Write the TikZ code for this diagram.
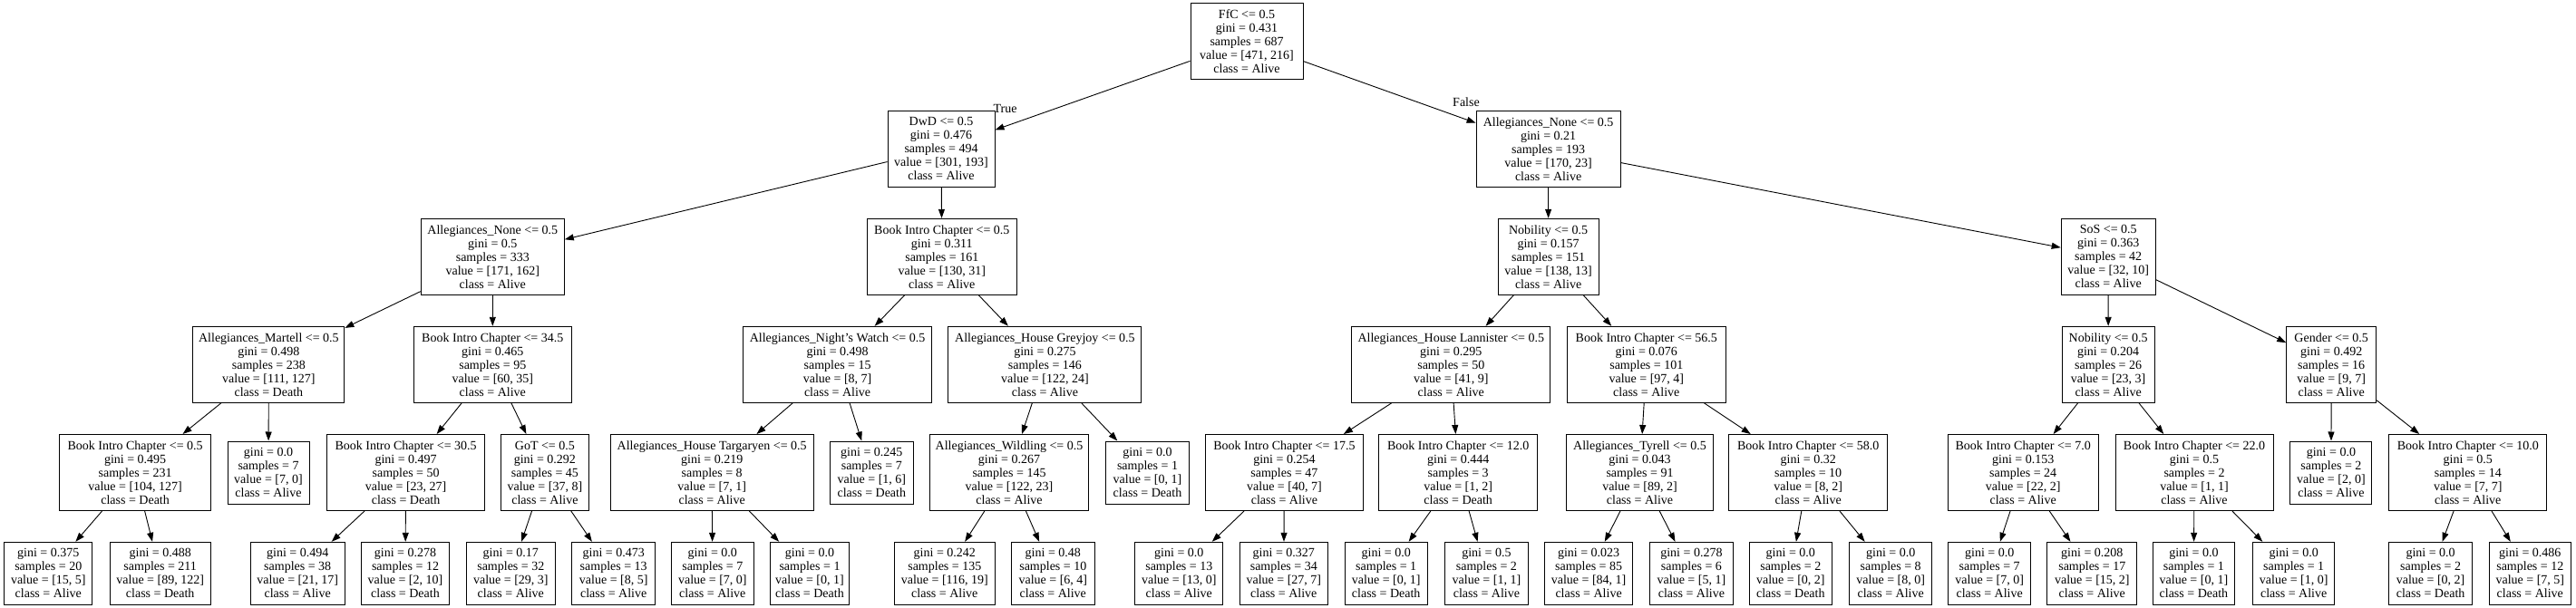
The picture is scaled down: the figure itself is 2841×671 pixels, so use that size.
\documentclass[tikz,border=0pt]{standalone}
\usepackage{fontspec}
\setmainfont{Liberation Serif}
\usetikzlibrary{arrows.meta}
\begin{document}
\begin{tikzpicture}[x=1pt,y=-1pt,
  box/.style={draw, line width=1pt, rectangle, inner sep=0pt, minimum height=84pt, align=center, font=\fontsize{14}{15}\selectfont},
  leaf/.style={box, minimum height=69pt},
  edge/.style={line width=0.9pt, -{Triangle[length=10pt,width=7pt]}},
  elabel/.style={inner sep=0pt, font=\fontsize{14}{15}\selectfont}]
\useasboundingbox (0,0) rectangle (2841,671);
% level 0
\node[box, minimum width=124pt] (root) at (1375,45.3) {FfC <= 0.5\\gini = 0.431\\samples = 687\\value = [471, 216]\\class = Alive};
% level 1
\node[box, minimum width=118pt] (dwd) at (1038,164.3) {DwD <= 0.5\\gini = 0.476\\samples = 494\\value = [301, 193]\\class = Alive};
\node[box, minimum width=159pt] (anoneA) at (1707.6,164.3) {Allegiances\_None <= 0.5\\gini = 0.21\\samples = 193\\value = [170, 23]\\class = Alive};
% level 2
\node[box, minimum width=158pt] (anoneB) at (543.3,283.3) {Allegiances\_None <= 0.5\\gini = 0.5\\samples = 333\\value = [171, 162]\\class = Alive};
\node[box, minimum width=165pt] (bicA) at (1038.8,283.3) {Book Intro Chapter <= 0.5\\gini = 0.311\\samples = 161\\value = [130, 31]\\class = Alive};
\node[box, minimum width=111pt] (nobA) at (1707.6,283.3) {Nobility <= 0.5\\gini = 0.157\\samples = 151\\value = [138, 13]\\class = Alive};
\node[box, minimum width=104pt] (sos) at (2325.2,283.3) {SoS <= 0.5\\gini = 0.363\\samples = 42\\value = [32, 10]\\class = Alive};
% level 3
\node[box, minimum width=167pt] (mart) at (296.4,402.3) {Allegiances\_Martell <= 0.5\\gini = 0.498\\samples = 238\\value = [111, 127]\\class = Death};
\node[box, minimum width=174pt] (bicB) at (543.3,402.3) {Book Intro Chapter <= 34.5\\gini = 0.465\\samples = 95\\value = [60, 35]\\class = Alive};
\node[box, minimum width=208pt] (nw) at (923.6,402.3) {Allegiances\_Night's Watch <= 0.5\\gini = 0.498\\samples = 15\\value = [8, 7]\\class = Alive};
\node[box, minimum width=213pt] (grey) at (1152.4,402.3) {Allegiances\_House Greyjoy <= 0.5\\gini = 0.275\\samples = 146\\value = [122, 24]\\class = Alive};
\node[box, minimum width=219pt] (lann) at (1600.3,402.3) {Allegiances\_House Lannister <= 0.5\\gini = 0.295\\samples = 50\\value = [41, 9]\\class = Alive};
\node[box, minimum width=175pt] (bicC) at (1815.8,402.3) {Book Intro Chapter <= 56.5\\gini = 0.076\\samples = 101\\value = [97, 4]\\class = Alive};
\node[box, minimum width=102pt] (nobB) at (2325.1,402.3) {Nobility <= 0.5\\gini = 0.204\\samples = 26\\value = [23, 3]\\class = Alive};
\node[box, minimum width=99pt] (gender) at (2571.2,402.3) {Gender <= 0.5\\gini = 0.492\\samples = 16\\value = [9, 7]\\class = Alive};
% level 4
\node[box, minimum width=167pt] (bicD) at (149.1,521.5) {Book Intro Chapter <= 0.5\\gini = 0.495\\samples = 231\\value = [104, 127]\\class = Death};
\node[leaf, minimum width=90pt] (lfA) at (296,521.5) {gini = 0.0\\samples = 7\\value = [7, 0]\\class = Alive};
\node[box, minimum width=174pt] (bicE) at (447.6,521.5) {Book Intro Chapter <= 30.5\\gini = 0.497\\samples = 50\\value = [23, 27]\\class = Death};
\node[box, minimum width=97.6pt] (got) at (600.9,521.5) {GoT <= 0.5\\gini = 0.292\\samples = 45\\value = [37, 8]\\class = Alive};
\node[box, minimum width=223.6pt] (targ) at (785.2,521.5) {Allegiances\_House Targaryen <= 0.5\\gini = 0.219\\samples = 8\\value = [7, 1]\\class = Alive};
\node[leaf, minimum width=92pt] (lfB) at (961.3,521.5) {gini = 0.245\\samples = 7\\value = [1, 6]\\class = Death};
\node[box, minimum width=174.5pt] (wild) at (1113,521.5) {Allegiances\_Wildling <= 0.5\\gini = 0.267\\samples = 145\\value = [122, 23]\\class = Alive};
\node[leaf, minimum width=91.5pt] (lfC) at (1265.5,521.5) {gini = 0.0\\samples = 1\\value = [0, 1]\\class = Death};
\node[box, minimum width=174pt] (bicF) at (1416.4,521.5) {Book Intro Chapter <= 17.5\\gini = 0.254\\samples = 47\\value = [40, 7]\\class = Alive};
\node[box, minimum width=174.5pt] (bicG) at (1608.2,521.5) {Book Intro Chapter <= 12.0\\gini = 0.444\\samples = 3\\value = [1, 2]\\class = Death};
\node[box, minimum width=162pt] (tyrell) at (1808.5,521.5) {Allegiances\_Tyrell <= 0.5\\gini = 0.043\\samples = 91\\value = [89, 2]\\class = Alive};
\node[box, minimum width=174.5pt] (bicH) at (1994.2,521.5) {Book Intro Chapter <= 58.0\\gini = 0.32\\samples = 10\\value = [8, 2]\\class = Alive};
\node[box, minimum width=166pt] (bicI) at (2231.2,521.5) {Book Intro Chapter <= 7.0\\gini = 0.153\\samples = 24\\value = [22, 2]\\class = Alive};
\node[box, minimum width=174pt] (bicJ) at (2420,521.5) {Book Intro Chapter <= 22.0\\gini = 0.5\\samples = 2\\value = [1, 1]\\class = Alive};
\node[leaf, minimum width=90pt] (lfD) at (2570.9,521.5) {gini = 0.0\\samples = 2\\value = [2, 0]\\class = Alive};
\node[box, minimum width=174pt] (bicK) at (2721.8,521.5) {Book Intro Chapter <= 10.0\\gini = 0.5\\samples = 14\\value = [7, 7]\\class = Alive};
% level 5
\node[leaf, minimum width=97pt] (m1) at (53.3,632.8) {gini = 0.375\\samples = 20\\value = [15, 5]\\class = Alive};
\node[leaf, minimum width=111pt] (m2) at (176.7,632.8) {gini = 0.488\\samples = 211\\value = [89, 122]\\class = Death};
\node[leaf, minimum width=103.6pt] (m3) at (328.2,632.8) {gini = 0.494\\samples = 38\\value = [21, 17]\\class = Alive};
\node[leaf, minimum width=97.6pt] (m4) at (447,632.8) {gini = 0.278\\samples = 12\\value = [2, 10]\\class = Death};
\node[leaf, minimum width=97.6pt] (m5) at (563.3,632.8) {gini = 0.17\\samples = 32\\value = [29, 3]\\class = Alive};
\node[leaf, minimum width=91.5pt] (m6) at (676.7,632.8) {gini = 0.473\\samples = 13\\value = [8, 5]\\class = Alive};
\node[leaf, minimum width=91.5pt] (m7) at (785.8,632.8) {gini = 0.0\\samples = 7\\value = [7, 0]\\class = Alive};
\node[leaf, minimum width=87pt] (m8) at (893,632.8) {gini = 0.0\\samples = 1\\value = [0, 1]\\class = Death};
\node[leaf, minimum width=111pt] (m9) at (1041.8,632.8) {gini = 0.242\\samples = 135\\value = [116, 19]\\class = Alive};
\node[leaf, minimum width=91.5pt] (m10) at (1161.3,632.8) {gini = 0.48\\samples = 10\\value = [6, 4]\\class = Alive};
\node[leaf, minimum width=97pt] (m11) at (1300.3,632.8) {gini = 0.0\\samples = 13\\value = [13, 0]\\class = Alive};
\node[leaf, minimum width=97.5pt] (m12) at (1415.8,632.8) {gini = 0.327\\samples = 34\\value = [27, 7]\\class = Alive};
\node[leaf, minimum width=91pt] (m13) at (1528.7,632.8) {gini = 0.0\\samples = 1\\value = [0, 1]\\class = Death};
\node[leaf, minimum width=91.6pt] (m14) at (1639.4,632.8) {gini = 0.5\\samples = 2\\value = [1, 1]\\class = Alive};
\node[leaf, minimum width=97.6pt] (m15) at (1752.1,632.8) {gini = 0.023\\samples = 85\\value = [84, 1]\\class = Alive};
\node[leaf, minimum width=91.3pt] (m16) at (1865.4,632.8) {gini = 0.278\\samples = 6\\value = [5, 1]\\class = Alive};
\node[leaf, minimum width=91pt] (m17) at (1974.8,632.8) {gini = 0.0\\samples = 2\\value = [0, 2]\\class = Death};
\node[leaf, minimum width=91pt] (m18) at (2085.2,632.8) {gini = 0.0\\samples = 8\\value = [8, 0]\\class = Alive};
\node[leaf, minimum width=91pt] (m19) at (2194.2,632.8) {gini = 0.0\\samples = 7\\value = [7, 0]\\class = Alive};
\node[leaf, minimum width=98.8pt] (m20) at (2307.3,632.8) {gini = 0.208\\samples = 17\\value = [15, 2]\\class = Alive};
\node[leaf, minimum width=90.3pt] (m21) at (2419.4,632.8) {gini = 0.0\\samples = 1\\value = [0, 1]\\class = Death};
\node[leaf, minimum width=90.3pt] (m22) at (2529.7,632.8) {gini = 0.0\\samples = 1\\value = [1, 0]\\class = Alive};
\node[leaf, minimum width=91.6pt] (m23) at (2680.6,632.8) {gini = 0.0\\samples = 2\\value = [0, 2]\\class = Death};
\node[leaf, minimum width=90.3pt] (m24) at (2790.3,632.8) {gini = 0.486\\samples = 12\\value = [7, 5]\\class = Alive};
% edge labels
\node[elabel] (ltrue) at (1108.5,119.5) {True};
\node[elabel] (lfalse) at (1617,113) {False};
% edges
\draw[edge] (root) -- (dwd);
\draw[edge] (root) -- (anoneA);
\draw[edge] (dwd) -- (anoneB);
\draw[edge] (dwd) -- (bicA);
\draw[edge] (anoneB) -- (mart);
\draw[edge] (anoneB) -- (bicB);
\draw[edge] (mart) -- (bicD);
\draw[edge] (mart) -- (lfA);
\draw[edge] (bicD) -- (m1);
\draw[edge] (bicD) -- (m2);
\draw[edge] (bicB) -- (bicE);
\draw[edge] (bicB) -- (got);
\draw[edge] (bicE) -- (m3);
\draw[edge] (bicE) -- (m4);
\draw[edge] (got) -- (m5);
\draw[edge] (got) -- (m6);
\draw[edge] (bicA) -- (nw);
\draw[edge] (bicA) -- (grey);
\draw[edge] (nw) -- (targ);
\draw[edge] (nw) -- (lfB);
\draw[edge] (targ) -- (m7);
\draw[edge] (targ) -- (m8);
\draw[edge] (grey) -- (wild);
\draw[edge] (grey) -- (lfC);
\draw[edge] (wild) -- (m9);
\draw[edge] (wild) -- (m10);
\draw[edge] (anoneA) -- (nobA);
\draw[edge] (anoneA) -- (sos);
\draw[edge] (nobA) -- (lann);
\draw[edge] (nobA) -- (bicC);
\draw[edge] (lann) -- (bicF);
\draw[edge] (lann) -- (bicG);
\draw[edge] (bicF) -- (m11);
\draw[edge] (bicF) -- (m12);
\draw[edge] (bicG) -- (m13);
\draw[edge] (bicG) -- (m14);
\draw[edge] (bicC) -- (tyrell);
\draw[edge] (bicC) -- (bicH);
\draw[edge] (tyrell) -- (m15);
\draw[edge] (tyrell) -- (m16);
\draw[edge] (bicH) -- (m17);
\draw[edge] (bicH) -- (m18);
\draw[edge] (sos) -- (nobB);
\draw[edge] (sos) -- (gender);
\draw[edge] (nobB) -- (bicI);
\draw[edge] (nobB) -- (bicJ);
\draw[edge] (bicI) -- (m19);
\draw[edge] (bicI) -- (m20);
\draw[edge] (bicJ) -- (m21);
\draw[edge] (bicJ) -- (m22);
\draw[edge] (gender) -- (lfD);
\draw[edge] (gender) -- (bicK);
\draw[edge] (bicK) -- (m23);
\draw[edge] (bicK) -- (m24);
\end{tikzpicture}
\end{document}
